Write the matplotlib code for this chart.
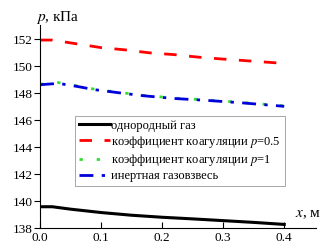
import numpy as np
import matplotlib.pyplot as plt

plt.rcParams['font.family'] = ['Liberation Serif', 'DejaVu Serif']
plt.rcParams['mathtext.fontset'] = 'stix'

# данные
x_black = [0, 0.02, 0.05, 0.1, 0.15, 0.2, 0.25, 0.3, 0.35, 0.4]
p_black = [139.58, 139.58, 139.4, 139.15, 138.95, 138.8, 138.68, 138.55, 138.42, 138.27]

x_red = [0, 0.02, 0.05, 0.1, 0.14, 0.18, 0.22, 0.26, 0.3, 0.35, 0.4]
p_red = [151.93, 151.93, 151.72, 151.37, 151.2, 150.98, 150.85, 150.66, 150.52, 150.36, 150.2]

x_blue = [0, 0.03, 0.06, 0.09, 0.13, 0.17, 0.22, 0.27, 0.33, 0.4]
p_green = [148.66, 148.78, 148.54, 148.28, 148.05, 147.83, 147.63, 147.5, 147.31, 147.05]
p_blue = [148.62, 148.72, 148.5, 148.25, 148.02, 147.8, 147.6, 147.47, 147.28, 147.02]

labels = ['однородный газ',
          'коэффициент коагуляции $p$=0.5',
          'коэффициент коагуляции $p$=1',
          'инертная газовзвесь']

xticks = [0.0, 0.1, 0.2, 0.3, 0.4]
yticks = [138, 140, 142, 144, 146, 148, 150, 152]

fig = plt.figure(figsize=(3.34, 2.52), dpi=100)
ax = fig.add_axes([0.12, 0.095, 0.826, 0.806])

ax.plot(x_black, p_black, color='black', lw=2.2, label=labels[0])
ax.plot(x_red, p_red, color='red', lw=2.0, dashes=(4.5, 4.5), label=labels[1])
ax.plot(x_blue, p_green, color='#33dd33', lw=2.0, dashes=(1.2, 5), label=labels[2])
ax.plot(x_blue, p_blue, color='#0000dd', lw=2.0, dashes=(5, 3, 1.2, 3), label=labels[3])

ax.set_xlim(0, 0.452)
ax.set_ylim(138, 153.05)
ax.set_xticks(xticks)
ax.set_xticklabels(['%.1f' % v for v in xticks])
ax.set_yticks(yticks)

for s in ['top', 'right']:
    ax.spines[s].set_visible(False)
ax.tick_params(axis='y', direction='out', length=4, labelsize=9.5, pad=1.5)
ax.tick_params(axis='x', direction='in', length=4, labelsize=9.5, pad=3)

ax.text(-0.015, 0.995, '$p$, кПа', transform=ax.transAxes, fontsize=11,
        ha='left', va='bottom')
ax.text(0.97, 0.035, '$x$, м', transform=ax.transAxes, fontsize=11,
        ha='center', va='bottom')

leg = ax.legend(loc='upper left', bbox_to_anchor=(0.127, 0.552), borderaxespad=0,
                fontsize=9, handlelength=2.5, handletextpad=0.1,
                labelspacing=0.17, fancybox=False, framealpha=1,
                edgecolor='#999999', borderpad=0.3)
leg.get_frame().set_linewidth(0.6)

plt.savefig('out.png', dpi=100)
